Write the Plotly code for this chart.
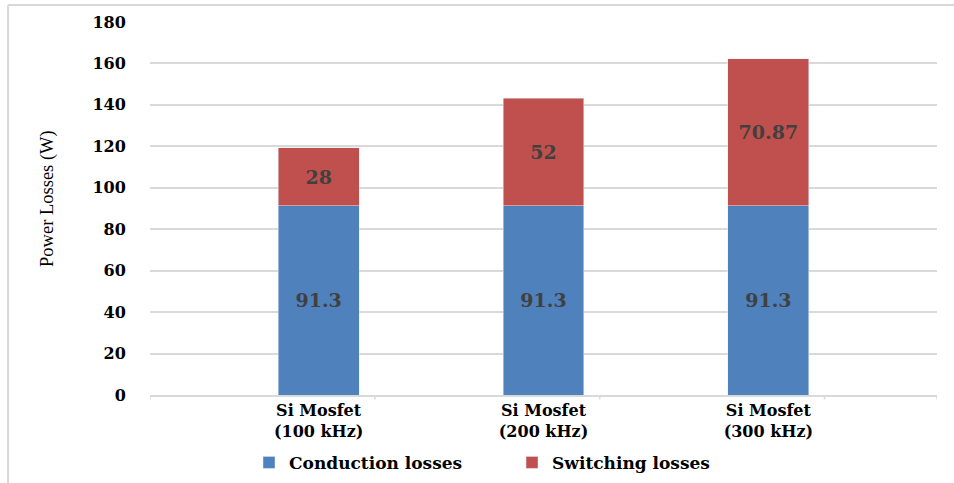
import plotly.graph_objects as go

categories = ["Si Mosfet<br>(100 kHz)", "Si Mosfet<br>(200 kHz)", "Si Mosfet<br>(300 kHz)"]
conduction = [91.3, 91.3, 91.3]
switching = [28, 52, 70.87]
conduction_labels = ["91.3", "91.3", "91.3"]
switching_labels = ["28", "52", "70.87"]
y_ticks = [0, 20, 40, 60, 80, 100, 120, 140, 160, 180]

xpos = list(range(len(categories)))
serif = "Liberation Serif, Times New Roman, serif"
wide = "DejaVu Serif, serif"
lblfont = dict(family=wide, size=19, color="#404040", weight="bold")

fig = go.Figure()
fig.add_trace(go.Bar(
    x=xpos, y=conduction, name="Conduction losses", marker_color="#4F81BD",
    width=0.36, text=conduction_labels, textposition="inside",
    insidetextanchor="middle", textfont=lblfont, hoverinfo="skip",
))
fig.add_trace(go.Bar(
    x=xpos, y=switching, name="Switching losses", marker_color="#C0504D",
    width=0.36, text=switching_labels, textposition="inside",
    insidetextanchor="middle", textfont=lblfont, hoverinfo="skip",
))

# category boundary tick marks
shapes = []
for b in [-0.75, 0.25, 1.25, 2.25, 2.75]:
    shapes.append(dict(type="line", xref="x", yref="paper", x0=b, x1=b, y0=0, y1=-0.012,
                       line=dict(color="#d9d9d9", width=1.5)))
# outer border (top & left)
shapes.append(dict(type="line", xref="paper", yref="paper", x0=-0.1804, x1=1.03,
                   y0=1.0456, y1=1.0456, line=dict(color="#d9d9d9", width=2)))
shapes.append(dict(type="line", xref="paper", yref="paper", x0=-0.1804, x1=-0.1804,
                   y0=1.0456, y1=-0.3, line=dict(color="#d9d9d9", width=2)))

fig.update_layout(
    barmode="stack",
    width=954, height=483,
    margin=dict(l=150, r=17, t=22, b=88, autoexpand=False),
    paper_bgcolor="white", plot_bgcolor="white",
    shapes=shapes,
    showlegend=True,
    legend=dict(orientation="h", x=0.46, xanchor="center", y=-0.182, yanchor="middle",
                font=dict(family=wide, size=17, color="black", weight="bold"),
                entrywidth=218, tracegroupgap=0, traceorder="normal"),
    annotations=[dict(text="Power Losses (W)", xref="paper", yref="paper",
                      x=-0.131, y=0.528, xanchor="center", yanchor="middle",
                      textangle=-90, showarrow=False,
                      font=dict(family=serif, size=18.5, color="black"))],
    xaxis=dict(
        range=[-0.75, 2.75], tickvals=xpos, ticktext=categories,
        showgrid=False, zeroline=False, showline=True, linecolor="#d9d9d9", linewidth=1.5,
        ticks="", tickfont=dict(family=wide, size=16, color="black", weight="bold"),
    ),
    yaxis=dict(
        range=[0, 180], tickvals=y_ticks, showgrid=True, gridcolor="#d9d9d9", gridwidth=1.5,
        zeroline=False, showline=False, ticks="outside", ticklen=20, tickcolor="white",
        tickfont=dict(family=wide, size=16, color="black", weight="bold"),
    ),
)

fig.write_html("out.html", config={"displayModeBar": False},
               post_script="document.body.style.margin='0';document.body.style.overflow='hidden';")
